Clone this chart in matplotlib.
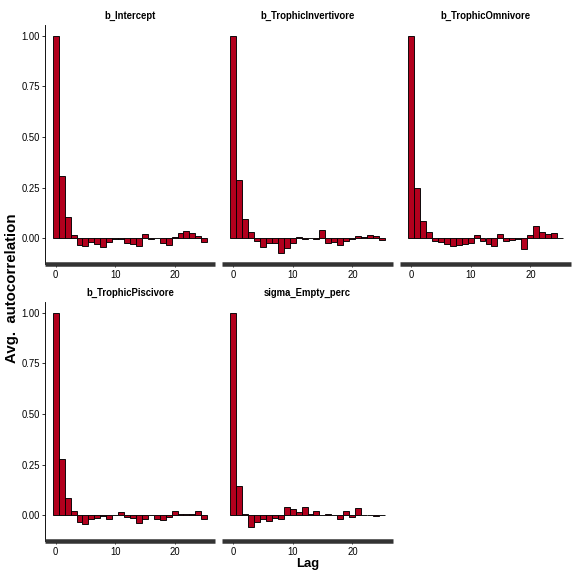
import matplotlib
matplotlib.use("Agg")
import matplotlib.pyplot as plt
import numpy as np

plt.rcParams['font.family'] = ['Liberation Sans', 'DejaVu Sans']

lags = list(range(26))
params = ["b_Intercept", "b_TrophicInvertivore", "b_TrophicOmnivore",
          "b_TrophicPiscivore", "sigma_Empty_perc"]

acf_intercept = [1.0, 0.305, 0.102, 0.016, -0.033, -0.041, -0.021, -0.028, -0.045, -0.021,
                 -0.006, -0.004, -0.023, -0.028, -0.041, 0.018, -0.005, 0.0, -0.025, -0.033,
                 0.005, 0.025, 0.036, 0.025, 0.011, -0.017]
acf_invertivore = [1.0, 0.285, 0.096, 0.028, -0.012, -0.045, -0.025, -0.025, -0.074, -0.050,
                   -0.025, 0.005, -0.003, 0.003, -0.005, 0.038, -0.025, -0.020, -0.035, -0.013,
                   -0.003, 0.010, 0.007, 0.016, 0.010, -0.008]
acf_omnivore = [1.0, 0.250, 0.083, 0.028, -0.012, -0.021, -0.031, -0.038, -0.035, -0.030,
                -0.025, 0.016, -0.012, -0.028, -0.038, 0.021, -0.013, -0.008, -0.003, -0.054,
                0.016, 0.058, 0.028, 0.020, 0.023, 0.002]
acf_piscivore = [1.0, 0.276, 0.083, 0.021, -0.036, -0.043, -0.017, -0.013, -0.003, -0.021,
                 0.003, 0.013, -0.007, -0.015, -0.041, -0.021, 0.003, -0.020, -0.025, -0.008,
                 0.021, 0.008, 0.008, 0.008, 0.018, -0.021]
acf_sigma = [1.0, 0.144, 0.008, -0.061, -0.035, -0.020, -0.031, -0.015, -0.021, 0.041,
             0.030, 0.013, 0.040, 0.008, 0.020, 0.0, 0.005, 0.002, -0.021, 0.018,
             -0.007, 0.033, 0.002, 0.002, -0.003, 0.003]

series = [acf_intercept, acf_invertivore, acf_omnivore, acf_piscivore, acf_sigma]

yticks = [0.0, 0.25, 0.5, 0.75, 1.0]
ytick_labels = ["0.00", "0.25", "0.50", "0.75", "1.00"]
xticks = [0, 10, 20]

W = H = 576.0
fig = plt.figure(figsize=(8, 8), dpi=72)

cols = [(45, 215), (222, 393), (400, 571)]
rows = [(25, 264), (302, 541)]

fill = "#B2001D"
for i, (name, vals) in enumerate(zip(params, series)):
    r, c = divmod(i, 3)
    x0, x1 = cols[c]
    y0, y1 = rows[r]
    ax = fig.add_axes([x0 / W, 1 - y1 / H, (x1 - x0) / W, (y1 - y0) / H])
    ax.bar(lags, vals, width=1.0, color=fill, edgecolor="black", linewidth=0.9)
    ax.set_xlim(-1.8, 26.8)
    ax.set_ylim(-0.128, 1.054)
    ax.set_facecolor("none")
    for s in ["top", "right"]:
        ax.spines[s].set_visible(False)
    ax.spines["bottom"].set_linewidth(4.5)
    ax.spines["bottom"].set_color("#333333")
    ax.spines["bottom"].set_capstyle("butt")
    ax.set_xticks(xticks)
    ax.set_xticklabels([str(t) for t in xticks])
    ax.tick_params(axis="x", length=3, width=0.8, pad=3, labelsize=9.5, colors="black")
    if c == 0:
        ax.spines["left"].set_linewidth(0.9)
        ax.spines["left"].set_color("black")
        ax.set_yticks(yticks)
        ax.set_yticklabels(ytick_labels)
        ax.tick_params(axis="y", length=3, width=0.8, pad=2, labelsize=9.5, colors="black")
    else:
        ax.spines["left"].set_visible(False)
        ax.set_yticks([])
    ax.set_title(name, fontsize=9.5, fontweight="bold", pad=6)

fig.text(308 / W, 1 - 564 / H, "Lag", ha="center", va="center", fontsize=13, fontweight="bold")
fig.text(12 / W, 1 - 288 / H, "Avg.  autocorrelation", ha="center", va="center",
         rotation=90, fontsize=15, fontweight="bold")

fig.savefig("out.png", dpi=72)
